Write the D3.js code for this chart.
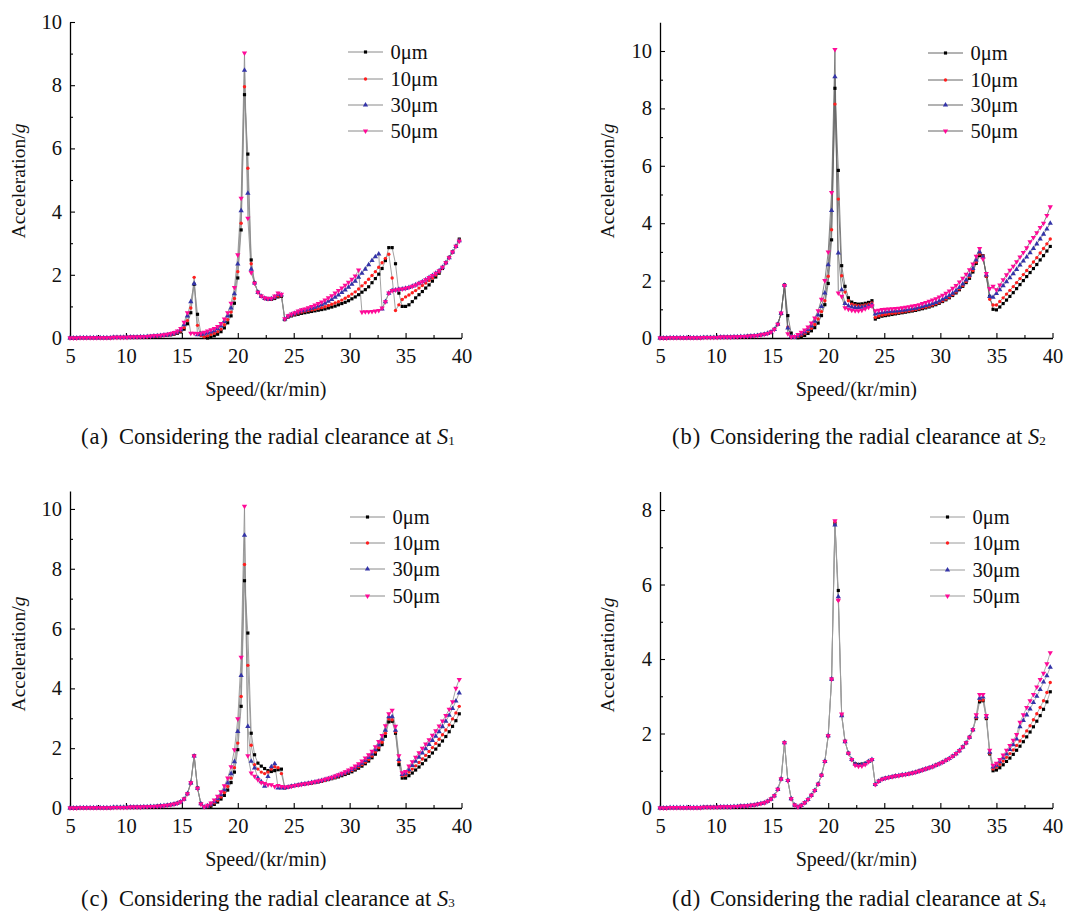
<!DOCTYPE html>
<html>
<head>
<meta charset="utf-8">
<script src="https://cdn.jsdelivr.net/npm/d3@7"></script>
<style>
body { margin: 0; background: #fff; }
svg { display: block; font-family: "Liberation Serif", "Times New Roman", serif; }
</style>
</head>
<body>
<div id="chart"></div>
<script>
// speed grid, kr/min
const speed = [5.0,5.3,5.6,5.9,6.2,6.5,6.8,7.1,7.4,7.7,
  8.0,8.3,8.6,8.9,9.2,9.5,9.8,10.1,10.4,10.7,
  11.0,11.3,11.6,11.9,12.2,12.5,12.8,13.1,13.4,13.7,
  14.0,14.3,14.6,14.9,15.2,15.5,15.8,16.1,16.4,16.7,
  17.0,17.3,17.6,17.9,18.2,18.5,18.8,19.1,19.4,19.7,
  20.0,20.3,20.6,20.9,21.2,21.5,21.8,22.1,22.4,22.7,
  23.0,23.3,23.6,23.9,24.2,24.5,24.8,25.1,25.4,25.7,
  26.0,26.3,26.6,26.9,27.2,27.5,27.8,28.1,28.4,28.7,
  29.0,29.3,29.6,29.9,30.2,30.5,30.8,31.1,31.4,31.7,
  32.0,32.3,32.6,32.9,33.2,33.5,33.8,34.1,34.4,34.7,
  35.0,35.3,35.6,35.9,36.2,36.5,36.8,37.1,37.4,37.7,
  38.0,38.3,38.6,38.9,39.2,39.5,39.8];

const legendLabels = ["0μm", "10μm", "30μm", "50μm"];
const xTicks = [5, 10, 15, 20, 25, 30, 35, 40];
const xMinor = [7.5, 12.5, 17.5, 22.5, 27.5, 32.5, 37.5];

// (a) clearance at S1
const s1_0 = [0.00,0.00,0.00,0.01,0.01,0.01,0.01,0.01,0.01,0.01,
  0.01,0.01,0.01,0.02,0.02,0.02,0.02,0.02,0.03,0.03,
  0.03,0.03,0.04,0.04,0.05,0.05,0.06,0.07,0.08,0.09,
  0.10,0.12,0.15,0.19,0.28,0.45,0.80,1.70,0.75,0.15,
  0.02,0.00,0.03,0.07,0.12,0.20,0.32,0.48,0.70,1.10,
  1.90,3.42,7.70,5.82,2.47,1.75,1.45,1.32,1.25,1.22,
  1.22,1.25,1.30,1.32,0.58,0.66,0.70,0.73,0.75,0.78,
  0.80,0.82,0.84,0.86,0.88,0.90,0.92,0.95,0.98,1.01,
  1.05,1.09,1.13,1.18,1.24,1.30,1.37,1.45,1.53,1.62,
  1.75,1.88,2.02,2.20,2.45,2.86,2.86,2.35,1.42,1.00,
  1.00,1.05,1.15,1.27,1.37,1.47,1.58,1.68,1.80,1.93,
  2.05,2.20,2.38,2.55,2.72,2.90,3.13];
const s1_10 = [0.00,0.00,0.00,0.01,0.01,0.01,0.01,0.01,0.01,0.01,
  0.01,0.01,0.01,0.02,0.02,0.02,0.02,0.02,0.03,0.03,
  0.03,0.03,0.04,0.04,0.05,0.06,0.06,0.07,0.08,0.10,
  0.11,0.13,0.17,0.22,0.33,0.55,0.95,1.92,0.40,0.08,
  0.04,0.07,0.11,0.15,0.20,0.28,0.42,0.58,0.82,1.25,
  2.10,3.63,7.95,5.37,2.35,1.75,1.45,1.32,1.25,1.22,
  1.23,1.27,1.33,1.34,0.59,0.68,0.72,0.76,0.79,0.82,
  0.85,0.87,0.89,0.91,0.93,0.96,0.99,1.03,1.07,1.11,
  1.15,1.20,1.26,1.32,1.39,1.46,1.55,1.65,1.75,1.86,
  1.98,2.10,2.24,2.38,2.52,2.65,1.90,0.87,1.05,1.22,
  1.30,1.36,1.43,1.50,1.58,1.66,1.74,1.82,1.90,1.99,
  2.09,2.22,2.39,2.56,2.73,2.90,3.10];
const s1_30 = [0.00,0.00,0.00,0.01,0.01,0.01,0.01,0.01,0.01,0.01,
  0.01,0.01,0.01,0.02,0.02,0.02,0.02,0.02,0.03,0.03,
  0.03,0.04,0.04,0.05,0.05,0.06,0.07,0.08,0.09,0.10,
  0.12,0.15,0.19,0.26,0.42,0.70,1.15,1.72,0.10,0.12,
  0.13,0.16,0.19,0.23,0.29,0.38,0.52,0.70,0.95,1.40,
  2.34,4.03,8.47,4.58,2.18,1.74,1.45,1.32,1.26,1.23,
  1.24,1.30,1.38,1.36,0.60,0.69,0.74,0.78,0.82,0.86,
  0.88,0.91,0.94,0.97,1.01,1.05,1.10,1.16,1.22,1.29,
  1.36,1.44,1.52,1.61,1.70,1.80,1.92,2.05,2.18,2.32,
  2.45,2.57,2.66,0.92,1.15,1.42,1.50,1.52,1.54,1.55,
  1.57,1.60,1.64,1.68,1.73,1.78,1.84,1.91,1.98,2.05,
  2.13,2.24,2.38,2.54,2.72,2.90,3.08];
const s1_50 = [0.00,0.00,0.00,0.01,0.01,0.01,0.01,0.01,0.01,0.01,
  0.01,0.01,0.01,0.02,0.02,0.02,0.02,0.02,0.03,0.03,
  0.03,0.04,0.04,0.05,0.06,0.07,0.08,0.09,0.10,0.12,
  0.14,0.17,0.22,0.30,0.50,0.80,0.15,0.15,0.14,0.15,
  0.18,0.22,0.26,0.30,0.36,0.46,0.60,0.80,1.10,1.60,
  2.63,4.42,9.02,3.79,2.07,1.73,1.45,1.33,1.27,1.25,
  1.26,1.33,1.42,1.38,0.61,0.70,0.76,0.80,0.85,0.89,
  0.92,0.96,1.00,1.04,1.09,1.14,1.20,1.27,1.34,1.42,
  1.50,1.58,1.67,1.76,1.86,1.96,2.15,0.82,0.83,0.83,
  0.84,0.85,0.87,0.95,1.15,1.42,1.50,1.52,1.54,1.55,
  1.57,1.60,1.64,1.68,1.73,1.78,1.84,1.91,1.98,2.05,
  2.13,2.24,2.38,2.54,2.72,2.90,3.06];

// (b) clearance at S2
const s2_0 = [0.00,0.00,0.00,0.01,0.01,0.01,0.01,0.01,0.01,0.01,
  0.01,0.01,0.01,0.02,0.02,0.02,0.02,0.02,0.03,0.03,
  0.03,0.03,0.04,0.04,0.05,0.05,0.06,0.07,0.08,0.09,
  0.11,0.13,0.16,0.21,0.30,0.48,0.85,1.85,0.78,0.17,
  0.02,0.01,0.04,0.09,0.16,0.25,0.36,0.52,0.78,1.16,
  1.90,3.42,8.70,5.84,2.52,1.80,1.40,1.25,1.20,1.18,
  1.19,1.21,1.24,1.30,0.66,0.72,0.76,0.78,0.80,0.82,
  0.84,0.86,0.88,0.90,0.92,0.94,0.96,0.99,1.02,1.05,
  1.08,1.12,1.16,1.21,1.27,1.33,1.40,1.48,1.57,1.68,
  1.80,1.93,2.08,2.30,2.60,2.87,2.87,2.15,1.45,1.00,
  0.98,1.08,1.20,1.32,1.45,1.58,1.72,1.86,2.00,2.14,
  2.28,2.42,2.56,2.72,2.87,3.03,3.19];
const s2_10 = [0.00,0.00,0.00,0.01,0.01,0.01,0.01,0.01,0.01,0.01,
  0.01,0.01,0.01,0.02,0.02,0.02,0.02,0.02,0.03,0.03,
  0.03,0.03,0.04,0.04,0.05,0.05,0.06,0.07,0.08,0.09,
  0.11,0.13,0.16,0.21,0.30,0.48,0.85,1.84,0.38,0.06,
  0.02,0.05,0.10,0.16,0.24,0.34,0.47,0.66,0.92,1.30,
  2.15,3.77,8.15,4.84,2.17,1.60,1.30,1.18,1.14,1.13,
  1.13,1.15,1.18,1.22,0.72,0.77,0.80,0.82,0.84,0.86,
  0.87,0.89,0.91,0.93,0.95,0.97,0.99,1.02,1.05,1.08,
  1.11,1.15,1.19,1.24,1.30,1.36,1.43,1.51,1.60,1.71,
  1.83,1.97,2.13,2.35,2.65,2.93,2.86,2.15,1.35,1.15,
  1.15,1.27,1.40,1.53,1.66,1.79,1.93,2.07,2.21,2.35,
  2.50,2.65,2.80,2.96,3.12,3.28,3.45];
const s2_30 = [0.00,0.00,0.00,0.01,0.01,0.01,0.01,0.01,0.01,0.01,
  0.01,0.01,0.01,0.02,0.02,0.02,0.02,0.02,0.03,0.03,
  0.03,0.03,0.04,0.04,0.05,0.05,0.06,0.07,0.08,0.09,
  0.11,0.13,0.16,0.21,0.30,0.48,0.86,1.84,0.35,0.05,
  0.03,0.08,0.14,0.21,0.30,0.42,0.58,0.80,1.10,1.57,
  2.55,4.44,9.10,2.96,1.68,1.20,1.12,1.08,1.06,1.06,
  1.07,1.09,1.11,1.16,0.84,0.87,0.89,0.91,0.92,0.93,
  0.94,0.95,0.97,0.98,1.00,1.02,1.04,1.07,1.10,1.13,
  1.16,1.20,1.24,1.29,1.35,1.41,1.48,1.56,1.65,1.76,
  1.88,2.02,2.19,2.42,2.72,3.00,2.82,2.20,1.45,1.42,
  1.55,1.68,1.82,1.96,2.10,2.24,2.39,2.54,2.68,2.82,
  2.97,3.12,3.28,3.45,3.62,3.80,4.00];
const s2_50 = [0.00,0.00,0.00,0.01,0.01,0.01,0.01,0.01,0.01,0.01,
  0.01,0.01,0.01,0.02,0.02,0.02,0.02,0.02,0.03,0.03,
  0.03,0.03,0.04,0.04,0.05,0.05,0.06,0.07,0.08,0.09,
  0.11,0.13,0.16,0.21,0.30,0.48,0.87,1.83,0.15,0.04,
  0.05,0.12,0.20,0.28,0.38,0.52,0.70,0.95,1.35,2.00,
  3.00,5.07,10.05,1.57,1.45,1.05,1.00,0.97,0.95,0.95,
  0.97,1.02,1.07,1.12,0.95,0.97,0.99,1.00,1.01,1.02,
  1.03,1.04,1.05,1.07,1.09,1.11,1.13,1.16,1.20,1.24,
  1.28,1.32,1.37,1.43,1.49,1.56,1.64,1.73,1.83,1.95,
  2.08,2.22,2.38,2.58,2.85,3.12,2.75,2.25,1.72,1.80,
  1.68,1.85,2.03,2.20,2.36,2.50,2.66,2.82,2.98,3.14,
  3.35,3.50,3.67,3.85,4.00,4.27,4.57];

// (c) clearance at S3
const s3_0 = [0.00,0.00,0.00,0.01,0.01,0.01,0.01,0.01,0.01,0.01,
  0.01,0.01,0.01,0.02,0.02,0.02,0.02,0.02,0.03,0.03,
  0.03,0.03,0.04,0.04,0.05,0.05,0.06,0.07,0.08,0.09,
  0.11,0.13,0.16,0.21,0.30,0.48,0.84,1.75,0.67,0.15,
  0.02,0.02,0.06,0.12,0.20,0.30,0.42,0.60,0.85,1.20,
  1.95,3.40,7.60,5.85,2.50,1.78,1.50,1.40,1.32,1.25,
  1.22,1.25,1.28,1.30,0.67,0.70,0.73,0.75,0.77,0.79,
  0.80,0.82,0.83,0.85,0.87,0.89,0.92,0.95,0.98,1.01,
  1.04,1.08,1.12,1.16,1.21,1.27,1.33,1.40,1.48,1.57,
  1.68,1.80,1.95,2.12,2.40,2.88,2.90,2.50,1.45,1.00,
  1.00,1.08,1.17,1.27,1.37,1.48,1.60,1.72,1.84,1.97,
  2.10,2.24,2.39,2.55,2.73,2.92,3.15];
const s3_10 = [0.00,0.00,0.00,0.01,0.01,0.01,0.01,0.01,0.01,0.01,
  0.01,0.01,0.01,0.02,0.02,0.02,0.02,0.02,0.03,0.03,
  0.03,0.03,0.04,0.04,0.05,0.05,0.06,0.07,0.08,0.09,
  0.11,0.13,0.16,0.21,0.30,0.48,0.84,1.75,0.67,0.14,
  0.03,0.05,0.10,0.17,0.26,0.37,0.52,0.72,1.00,1.35,
  2.17,3.73,8.14,4.77,2.10,1.45,1.30,1.20,1.15,1.20,
  1.30,1.38,1.35,1.15,0.68,0.70,0.73,0.75,0.77,0.79,
  0.80,0.82,0.84,0.86,0.88,0.90,0.93,0.96,0.99,1.03,
  1.07,1.11,1.15,1.20,1.25,1.31,1.38,1.45,1.53,1.62,
  1.74,1.87,2.02,2.20,2.50,2.98,2.95,2.55,1.55,1.08,
  1.10,1.20,1.30,1.41,1.52,1.64,1.76,1.89,2.02,2.16,
  2.30,2.45,2.61,2.78,2.98,3.18,3.40];
const s3_30 = [0.00,0.00,0.00,0.01,0.01,0.01,0.01,0.01,0.01,0.01,
  0.01,0.01,0.01,0.02,0.02,0.02,0.02,0.02,0.03,0.03,
  0.03,0.03,0.04,0.04,0.05,0.05,0.06,0.07,0.08,0.09,
  0.11,0.13,0.16,0.21,0.30,0.48,0.84,1.74,0.66,0.14,
  0.03,0.07,0.13,0.21,0.31,0.44,0.61,0.84,1.15,1.55,
  2.56,4.43,9.12,2.73,1.56,1.34,1.00,0.88,0.73,1.05,
  1.38,1.48,0.67,0.67,0.68,0.70,0.73,0.75,0.77,0.79,
  0.81,0.83,0.85,0.87,0.89,0.92,0.95,0.98,1.01,1.05,
  1.09,1.13,1.18,1.23,1.29,1.35,1.42,1.50,1.59,1.69,
  1.81,1.95,2.11,2.30,2.60,3.05,3.05,2.60,1.62,1.12,
  1.16,1.28,1.42,1.56,1.70,1.84,1.98,2.12,2.26,2.40,
  2.55,2.72,2.90,3.10,3.33,3.58,3.85];
const s3_50 = [0.00,0.00,0.00,0.01,0.01,0.01,0.01,0.01,0.01,0.01,
  0.01,0.01,0.01,0.02,0.02,0.02,0.02,0.02,0.03,0.03,
  0.03,0.03,0.04,0.04,0.05,0.05,0.06,0.07,0.08,0.09,
  0.11,0.13,0.16,0.21,0.30,0.48,0.84,1.74,0.66,0.13,
  0.04,0.09,0.17,0.27,0.39,0.54,0.74,1.00,1.38,1.95,
  2.98,5.04,10.09,1.75,1.17,1.06,0.95,0.85,0.82,0.78,
  0.78,0.72,0.75,0.72,0.70,0.71,0.73,0.75,0.77,0.79,
  0.81,0.83,0.85,0.88,0.90,0.93,0.96,0.99,1.03,1.07,
  1.11,1.16,1.21,1.27,1.33,1.40,1.48,1.57,1.67,1.78,
  1.90,2.05,2.22,2.42,2.75,3.15,3.27,2.73,1.75,1.18,
  1.22,1.40,1.55,1.70,1.85,2.00,2.14,2.28,2.43,2.58,
  2.74,2.91,3.09,3.30,3.55,4.00,4.30];

// (d) clearance at S4
const s4_0 = [0.00,0.00,0.00,0.01,0.01,0.01,0.01,0.01,0.01,0.01,
  0.01,0.01,0.01,0.02,0.02,0.02,0.02,0.02,0.03,0.03,
  0.03,0.03,0.04,0.04,0.05,0.05,0.06,0.07,0.08,0.10,
  0.12,0.14,0.18,0.24,0.33,0.50,0.78,1.76,0.74,0.25,
  0.08,0.03,0.07,0.14,0.23,0.34,0.47,0.64,0.88,1.25,
  1.94,3.46,7.64,5.84,2.50,1.79,1.47,1.30,1.19,1.17,
  1.18,1.20,1.25,1.30,0.63,0.72,0.77,0.80,0.82,0.84,
  0.86,0.87,0.89,0.90,0.92,0.94,0.96,0.99,1.02,1.05,
  1.08,1.11,1.15,1.19,1.23,1.28,1.33,1.39,1.46,1.54,
  1.64,1.75,1.90,2.10,2.40,2.85,2.88,2.40,1.45,1.00,
  1.02,1.08,1.16,1.25,1.34,1.44,1.55,1.66,1.78,1.91,
  2.04,2.18,2.33,2.48,2.65,2.85,3.12];
const s4_10 = [0.00,0.00,0.00,0.01,0.01,0.01,0.01,0.01,0.01,0.01,
  0.01,0.01,0.01,0.02,0.02,0.02,0.02,0.02,0.03,0.03,
  0.03,0.03,0.04,0.04,0.05,0.05,0.06,0.07,0.08,0.10,
  0.12,0.14,0.18,0.24,0.33,0.50,0.78,1.75,0.74,0.25,
  0.08,0.03,0.07,0.14,0.23,0.34,0.47,0.64,0.88,1.25,
  1.94,3.46,7.68,5.58,2.50,1.79,1.47,1.30,1.18,1.15,
  1.16,1.19,1.25,1.30,0.63,0.72,0.77,0.80,0.82,0.84,
  0.86,0.87,0.89,0.90,0.92,0.94,0.96,0.99,1.02,1.05,
  1.08,1.11,1.15,1.19,1.23,1.28,1.33,1.39,1.46,1.54,
  1.64,1.75,1.90,2.10,2.42,2.90,2.90,2.42,1.47,1.05,
  1.10,1.17,1.26,1.36,1.46,1.56,1.68,1.80,1.93,2.07,
  2.21,2.37,2.53,2.70,2.88,3.10,3.37];
const s4_30 = [0.00,0.00,0.00,0.01,0.01,0.01,0.01,0.01,0.01,0.01,
  0.01,0.01,0.01,0.02,0.02,0.02,0.02,0.02,0.03,0.03,
  0.03,0.03,0.04,0.04,0.05,0.05,0.06,0.07,0.08,0.10,
  0.12,0.14,0.18,0.24,0.33,0.50,0.78,1.75,0.74,0.25,
  0.08,0.03,0.07,0.14,0.23,0.34,0.47,0.64,0.88,1.25,
  1.94,3.46,7.60,5.67,2.48,1.78,1.47,1.30,1.18,1.15,
  1.16,1.19,1.25,1.30,0.63,0.72,0.77,0.80,0.82,0.84,
  0.86,0.87,0.89,0.90,0.92,0.94,0.96,0.99,1.02,1.05,
  1.08,1.11,1.15,1.19,1.23,1.28,1.33,1.39,1.46,1.54,
  1.64,1.75,1.90,2.10,2.45,2.95,2.98,2.45,1.50,1.10,
  1.15,1.24,1.34,1.45,1.57,1.70,1.85,2.18,2.35,2.50,
  2.66,2.83,3.00,3.18,3.38,3.55,3.78];
const s4_50 = [0.00,0.00,0.00,0.01,0.01,0.01,0.01,0.01,0.01,0.01,
  0.01,0.01,0.01,0.02,0.02,0.02,0.02,0.02,0.03,0.03,
  0.03,0.03,0.04,0.04,0.05,0.05,0.06,0.07,0.08,0.10,
  0.12,0.14,0.18,0.24,0.33,0.50,0.78,1.75,0.74,0.25,
  0.08,0.03,0.07,0.14,0.23,0.34,0.47,0.64,0.88,1.25,
  1.94,3.46,7.71,5.58,2.52,1.79,1.47,1.30,1.15,1.12,
  1.13,1.17,1.24,1.30,0.63,0.72,0.77,0.80,0.82,0.84,
  0.86,0.87,0.89,0.90,0.92,0.94,0.96,0.99,1.02,1.05,
  1.08,1.11,1.15,1.19,1.23,1.28,1.33,1.39,1.46,1.54,
  1.64,1.75,1.90,2.10,2.50,3.05,3.05,2.48,1.55,1.15,
  1.20,1.30,1.42,1.55,1.68,1.82,1.97,2.30,2.50,2.70,
  2.88,3.05,3.25,3.45,3.62,3.87,4.17];

const colors = ["#000000", "#ff1f1f", "#3434a8", "#ff0a98"];
const symbols = [d3.symbolSquare, d3.symbolCircle, d3.symbolTriangle, d3.symbolTriangle];
const symSize = [10, 9, 12, 12];

const panels = [
  {tag: "a", sub: "1", series: [s1_0, s1_10, s1_30, s1_50], yMax: 10,
   yTicks: [0,2,4,6,8,10], yMinor: [1,3,5,7,9],
   left: 70, right: 461.5, bottom: 338, top: 22, line: "#8a8a8a",
   legX: 348, legRows: [52, 79, 105, 131], yTitleX: 25, yTitleY: 181,
   xTitleY: 396, capX: 81, capY: 444},
  {tag: "b", sub: "2", series: [s2_0, s2_10, s2_30, s2_50], yMax: 11,
   yTicks: [0,2,4,6,8,10], yMinor: [1,3,5,7,9],
   left: 660, right: 1052.5, bottom: 338, top: 22.3, line: "#666",
   legX: 928, legRows: [53, 80, 105, 131], yTitleX: 614, yTitleY: 181,
   xTitleY: 396, capX: 672, capY: 444},
  {tag: "c", sub: "3", series: [s3_0, s3_10, s3_30, s3_50], yMax: 10.6,
   yTicks: [0,2,4,6,8,10], yMinor: [1,3,5,7,9],
   left: 70, right: 461.5, bottom: 808, top: 491, line: "#8a8a8a",
   legX: 350, legRows: [517, 543, 569, 596], yTitleX: 25, yTitleY: 654,
   xTitleY: 866, capX: 81, capY: 906},
  {tag: "d", sub: "4", series: [s4_0, s4_10, s4_30, s4_50], yMax: 8.5,
   yTicks: [0,2,4,6,8], yMinor: [1,3,5,7],
   left: 660, right: 1052.5, bottom: 808, top: 491.4, line: "#9a9a9a",
   legX: 930, legRows: [517, 543, 570, 596], yTitleX: 614, yTitleY: 655,
   xTitleY: 866, capX: 672, capY: 906}
];

const svg = d3.select("#chart").append("svg")
  .attr("width", 1067)
  .attr("height", 912);

function symPath(i) {
  return d3.symbol().type(symbols[i]).size(symSize[i])();
}

panels.forEach(function(p) {
  const g = svg.append("g");

  const x = d3.scaleLinear().domain([5, 40]).range([p.left, p.right]);
  const y = d3.scaleLinear().domain([0, p.yMax]).range([p.bottom, p.top]);

  // axes
  const gx = g.append("g")
    .attr("transform", `translate(0,${p.bottom})`)
    .call(d3.axisBottom(x).tickValues(xTicks).tickSize(-5).tickSizeOuter(0)
      .tickPadding(10).tickFormat(d3.format("d")));
  g.append("g")
    .attr("transform", `translate(0,${p.bottom})`)
    .call(d3.axisBottom(x).tickValues(xMinor).tickSize(-3).tickFormat(""))
    .select(".domain").remove();

  const gy = g.append("g")
    .attr("transform", `translate(${p.left},0)`)
    .call(d3.axisLeft(y).tickValues(p.yTicks).tickSize(-5).tickSizeOuter(0)
      .tickPadding(8).tickFormat(d3.format("d")));
  g.append("g")
    .attr("transform", `translate(${p.left},0)`)
    .call(d3.axisLeft(y).tickValues(p.yMinor).tickSize(-3).tickFormat(""))
    .select(".domain").remove();

  g.selectAll(".domain").attr("stroke", "#000").attr("stroke-width", 1.3);
  g.selectAll(".tick line").attr("stroke", "#000").attr("stroke-width", 1.1);
  [gx, gy].forEach(a => a.attr("font-family", null).attr("font-size", null)
    .selectAll("text").attr("font-size", 20.5).attr("fill", "#111"));

  // series
  const line = d3.line()
    .x((d, i) => x(speed[i]))
    .y(d => y(d));

  p.series.forEach(function(vals, k) {
    g.append("path")
      .datum(vals)
      .attr("fill", "none")
      .attr("stroke", p.line)
      .attr("stroke-width", 0.8)
      .attr("d", line);
  });
  p.series.forEach(function(vals, k) {
    g.selectAll(".m" + k)
      .data(vals)
      .enter().append("path")
      .attr("class", "m" + k)
      .attr("d", symPath(k))
      .attr("fill", colors[k])
      .attr("transform", (d, i) => `translate(${x(speed[i])},${y(d)})` + (k == 3 ? " rotate(180)" : ""));
  });

  // legend
  const leg = g.append("g");
  legendLabels.forEach(function(lab, k) {
    const ry = p.legRows[k];
    leg.append("line")
      .attr("x1", p.legX).attr("x2", p.legX + 35)
      .attr("y1", ry).attr("y2", ry)
      .attr("stroke", p.line).attr("stroke-width", 1);
    leg.append("path")
      .attr("d", symPath(k))
      .attr("fill", colors[k])
      .attr("transform", `translate(${p.legX + 17.5},${ry})` + (k == 3 ? " rotate(180)" : ""));
    leg.append("text")
      .attr("x", p.legX + 42.5).attr("y", ry + 7)
      .attr("font-size", 20.5).attr("fill", "#111")
      .text(lab);
  });

  // titles
  g.append("text")
    .attr("x", (p.left + p.right) / 2).attr("y", p.xTitleY)
    .attr("text-anchor", "middle").attr("font-size", 20).attr("fill", "#111")
    .text("Speed/(kr/min)");

  const yt = g.append("text")
    .attr("transform", `translate(${p.yTitleX},${p.yTitleY}) rotate(-90)`)
    .attr("text-anchor", "middle").attr("font-size", 19.5).attr("fill", "#111");
  yt.append("tspan").text("Acceleration/");
  yt.append("tspan").attr("font-style", "italic").text("g");

  // caption
  const cap = g.append("text")
    .attr("x", p.capX).attr("y", p.capY)
    .attr("font-size", 22.5).attr("fill", "#111");
  cap.append("tspan").text("(");
  cap.append("tspan").attr("dx", 1).text(p.tag);
  cap.append("tspan").attr("dx", 1).text(")");
  cap.append("tspan").attr("x", p.capX + 38).text("Considering the radial clearance at ");
  cap.append("tspan").attr("font-style", "italic").text("S");
  cap.append("tspan").attr("font-size", 13).attr("dy", 1).text(p.sub);
});
</script>
</body>
</html>
